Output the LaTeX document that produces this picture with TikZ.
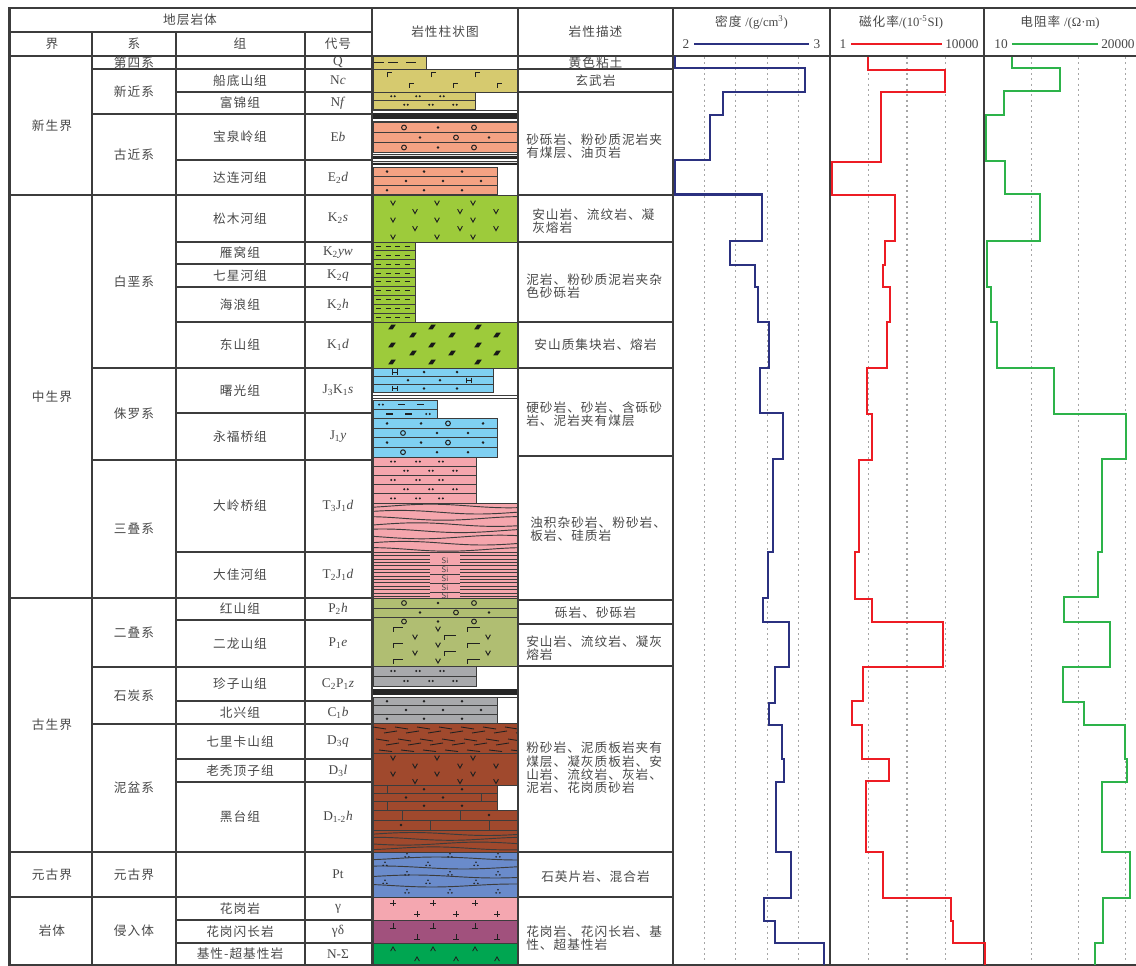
\documentclass[tikz,border=0pt]{standalone}
\usepackage{fontspec}
\setmainfont{Liberation Serif}
\newfontfamily\cjk{Noto Sans CJK SC}[LetterSpace=8]

\definecolor{txt}{HTML}{484848}
\definecolor{mk}{HTML}{202020}
\definecolor{rule}{HTML}{3C3C3C}
\definecolor{qyel}{HTML}{D6CA6F}
\definecolor{salm}{HTML}{F4A283}
\definecolor{kgrn}{HTML}{9DCB3B}
\definecolor{jblu}{HTML}{7FD0F2}
\definecolor{tpnk}{HTML}{F5A6AD}
\definecolor{poliv}{HTML}{B0BE72}
\definecolor{cgry}{HTML}{A8A9AC}
\definecolor{dbrn}{HTML}{A0492D}
\definecolor{ptblu}{HTML}{6A8BCB}
\definecolor{gpnk}{HTML}{F4A7B0}
\definecolor{gpur}{HTML}{A1517D}
\definecolor{ngrn}{HTML}{00A651}
\definecolor{dens}{HTML}{2B3180}
\definecolor{magn}{HTML}{ED1C24}
\definecolor{resi}{HTML}{2DB34A}
\definecolor{grid}{HTML}{A6A6A6}

% marks of the lithology column
\newcommand\mkdot[2]{\fill[mk] (#1,#2) circle (1.05pt);}
\newcommand\mkdd[2]{\fill[mk] (#1-1.8,#2) circle (0.85pt) (#1+1.8,#2) circle (0.85pt);}
\newcommand\mkring[2]{\draw[mk,line width=0.75pt] (#1,#2) circle (1.8pt);}
\newcommand\mkv[2]{\draw[mk,line width=0.7pt] (#1-2.4,#2-2.3)--(#1,#2+2.1)--(#1+2.4,#2-2.3);}
\newcommand\mkgam[3]{\draw[mk,line width=0.75pt] (#1,#2+4.5)--(#1,#2)--(#1+#3,#2);}
\newcommand\mkH[2]{\draw[mk,line width=0.6pt] (#1-2.2,#2-2.7)--(#1-2.2,#2+2.7) (#1+2.2,#2-2.7)--(#1+2.2,#2+2.7) (#1-2.2,#2)--(#1+2.2,#2);}
\newcommand\mkdash[2]{\draw[mk,line width=0.8pt] (#1,#2)--(#1+7,#2);}
\newcommand\mkblk[2]{\fill[black!90] (#1-3.8,#2+2.4)--(#1-0.6,#2-2.4)--(#1+3.8,#2-2.4)--(#1+0.6,#2+2.4)--cycle;}
\newcommand\mktri[2]{\fill[mk] (#1,#2-1.7) circle (0.7pt) (#1-1.9,#2+1.4) circle (0.7pt) (#1+1.9,#2+1.4) circle (0.7pt);}
\newcommand\mkplus[2]{\draw[mk,line width=0.6pt] (#1-2.7,#2)--(#1+2.7,#2) (#1,#2-2.7)--(#1,#2+2.7);}
\newcommand\mkperp[2]{\draw[mk,line width=0.6pt] (#1-2.7,#2+2.6)--(#1+2.7,#2+2.6) (#1,#2-2.6)--(#1,#2+2.6);}
\newcommand\mkcar[2]{\draw[mk,line width=0.6pt] (#1-2.4,#2+2.1)--(#1,#2-2.1)--(#1+2.4,#2+2.1);}

\begin{document}
\begin{tikzpicture}[x=0.75pt,y=-0.75pt,
  rulel/.style={draw=rule,line width=0.9pt},
  lay/.style={draw=rule,line width=0.6pt},
  cell/.style={font=\cjk\fontsize{9.5}{10}\selectfont,text=txt,inner sep=0pt},
  code/.style={font=\fontsize{10}{10}\selectfont,text=txt,inner sep=0pt},
  desc/.style={cell,align=left,anchor=west},
  gridl/.style={draw=grid,line width=1pt,dash pattern=on 1.5pt off 2.5pt},
  curve/.style={line width=1.7pt,line join=miter}]
\useasboundingbox (0,0) rectangle (1136,966);

% --- lithology column
% Q
\draw[lay,fill=qyel] (373,56) rectangle (426,69);
\foreach \x in {374,388,406} {\draw[mk,line width=0.8pt] (\x,62.5)--(\x+10,62.5);}
% basalt
\draw[lay,fill=qyel] (373,69) rectangle (518,92);
\foreach \x in {387,431,475} {\mkgam{\x}{73}{5}}
\foreach \x in {409,453,497} {\mkgam{\x}{83.5}{5}}
% Nf
\foreach \y in {92,100.5} {\draw[lay,fill=qyel] (373,\y) rectangle (475,\y+8.5);}
\foreach \x in {393,418,442} {\mkdd{\x}{96.3}}
\foreach \x in {406,431,455} {\mkdd{\x}{104.8}}
\draw[lay] (373,110.5)--(518,110.5) (373,121)--(518,121);
\fill[black!85] (373,113.5) rectangle (518,119);
% Eb
\foreach \y in {122.5,132.5,142.5} {\draw[lay,fill=salm] (373,\y) rectangle (518,\y+9.8);}
\foreach \y in {127.5,147.5} {\mkring{404}{\y} \mkdot{438}{\y} \mkring{474}{\y}}
\mkdot{420}{137.5} \mkring{456}{137.5} \mkdot{489}{137.5}
\draw[lay] (373,154)--(518,154) (373,161.5)--(518,161.5);
\fill[black!85] (373,156) rectangle (518,159) (373,163) rectangle (518,165);
% E2d
\foreach \y in {167,176.3,185.6} {\draw[lay,fill=salm] (373,\y) rectangle (497,\y+9.3);}
\foreach \y in {171.6,190.3} {\foreach \x in {387,424,462} {\mkdot{\x}{\y}}}
\foreach \x in {406,443,481} {\mkdot{\x}{181}}
% K2s
\draw[lay,fill=kgrn] (373,195) rectangle (518,242);
\foreach \y in {203,220,237} {\foreach \x in {393,437,473} {\mkv{\x}{\y}}}
\foreach \y in {211.5,228.5} {\foreach \x in {415,460,496} {\mkv{\x}{\y}}}
% K2yw - K2h
\foreach \i in {0,...,8} {\draw[lay,fill=kgrn] (373,{242+8.89*\i}) rectangle (415,{242+8.89*(\i+1)});
  \foreach \x in {376,385.5,395,404.5} {\draw[mk,line width=0.7pt] (\x,{246.4+8.89*\i})--(\x+5,{246.4+8.89*\i});}}
% K1d
\draw[lay,fill=kgrn] (373,322) rectangle (518,368);
\foreach \y in {327,345,362} {\foreach \x in {392,432,478} {\mkblk{\x}{\y}}}
\foreach \y in {335,353} {\foreach \x in {413,452,497} {\mkblk{\x}{\y}}}
% J3K1s
\foreach \y in {368,376.2,384.4} {\draw[lay,fill=jblu] (373,\y) rectangle (493,\y+8.2);}
\mkH{395}{372.1} \mkdot{424}{372.1} \mkdot{457}{372.1}
\mkdot{408}{380.3} \mkdot{440}{380.3} \mkH{469}{380.3}
\mkH{395}{388.5} \mkdot{424}{388.5} \mkdot{457}{388.5}
\draw[rule,line width=0.9pt] (373,395.3)--(518,395.3) (373,398.3)--(518,398.3);
% J1y
\foreach \y in {400,409.3} {\draw[lay,fill=jblu] (373,\y) rectangle (437,\y+9.3);}
\mkdd{381}{404.6} \mkdash{398}{404.6} \mkdash{417}{404.6}
\mkdash{386}{414} \mkdash{405}{414} \mkdd{428}{414}
\foreach \y in {418.6,428.2,437.8,447.4} {\draw[lay,fill=jblu] (373,\y) rectangle (497,\y+9.6);}
\foreach \y in {423.4,442.6} {\mkdot{387}{\y} \mkdot{421}{\y} \mkring{448}{\y} \mkdot{483}{\y}}
\foreach \y in {433,452.2} {\mkring{403}{\y} \mkdot{437}{\y} \mkdot{468}{\y}}
% T3J1d
\foreach \i in {0,...,4} {\draw[lay,fill=tpnk] (373,{457+9.2*\i}) rectangle (476,{457+9.2*(\i+1)});}
\foreach \y in {461.6,480,498.4} {\foreach \x in {393,418,441} {\mkdd{\x}{\y}}}
\foreach \y in {470.8,489.2} {\foreach \x in {406,431,455} {\mkdd{\x}{\y}}}
\draw[lay,fill=tpnk] (373,503) rectangle (518,552);
\foreach \k/\ph in {0/0,1/70,2/150,3/30,4/110,5/200,6/60,7/140} {\draw[rule,line width=0.7pt] plot[domain=373:518,samples=30,smooth] (\x,{506+6.2*\k+1.8*sin(2.3*\x+\ph)});}
% T2J1d
\draw[lay,fill=tpnk] (373,552) rectangle (518,598);
\foreach \k in {0,...,12} {\draw[lay,line width=0.55pt] (373,{555.5+3.4*\k})--(430,{555.5+3.4*\k}) (460,{555.5+3.4*\k})--(518,{555.5+3.4*\k});}
\foreach \y in {565,574,583,592} {\draw[lay,line width=0.55pt] (430,\y)--(460,\y);}
\foreach \y [count=\i] in {560.5,569.5,578.5,587.5,595.5} {\node[font=\fontsize{6}{6}\selectfont\sffamily,text=txt,inner sep=0pt] (si\i) at (445,\y) {Si};}
% P2h, P1e
\draw[lay,fill=poliv] (373,598) rectangle (518,608) (373,608) rectangle (518,617);
\mkring{404}{603} \mkdot{438}{603} \mkring{474}{603}
\mkdot{420}{612.5} \mkring{456}{612.5} \mkdot{489}{612.5}
\draw[lay,fill=poliv] (373,617) rectangle (518,666);
\mkring{404}{621.5} \mkdot{438}{621.5} \mkring{474}{621.5}
\foreach \y in {627,643,659} {\mkgam{393}{\y}{10} \mkv{438}{\y+2} \mkgam{467}{\y}{13}}
\foreach \y in {635,651} {\mkv{415}{\y+2} \mkgam{444}{\y}{12} \mkv{488}{\y+2}}
% C2P1z, C1b
\draw[lay,fill=cgry] (373,666) rectangle (476,676) (373,676) rectangle (476,686);
\foreach \x in {393,418,442} {\mkdd{\x}{671}}
\foreach \x in {406,431,455} {\mkdd{\x}{681}}
\fill[black!85] (373,689) rectangle (518,695);
\draw[lay] (373,697)--(518,697);
\foreach \y in {697,705.7,714.4} {\draw[lay,fill=cgry] (373,\y) rectangle (497,\y+8.7);}
\foreach \y in {701.3,718.7} {\foreach \x in {387,424,462} {\mkdot{\x}{\y}}}
\foreach \x in {406,443,481} {\mkdot{\x}{710}}
% D3q
\draw[lay,fill=dbrn] (373,723) rectangle (518,753);
\begin{scope}
\clip (373,723) rectangle (518,753);
\foreach \y/\o/\s in {727/0/2,733/11/-2,739/3/2,745/13/-2,750/6/1.5} {\foreach \x in {373,395,...,505} {\draw[mk,line width=0.65pt] (\x+\o,\y)--(\x+\o+13,\y+\s);}}
\end{scope}
% D3l
\draw[lay,fill=dbrn] (373,753) rectangle (518,785);
\foreach \y in {758,774} {\foreach \x in {393,437,473} {\mkv{\x}{\y}}}
\foreach \y in {766,781.5} {\foreach \x in {415,460,496} {\mkv{\x}{\y}}}
% D1-2h
\foreach \y in {785,793.3,801.6} {\draw[lay,fill=dbrn] (373,\y) rectangle (497,\y+8.3);}
\draw[lay,fill=dbrn] (373,810) rectangle (518,820) (373,820) rectangle (518,830);
\draw[lay] (387,785)--(387,793.3) (481,793.3)--(481,801.6) (387,801.6)--(387,810) (402,810)--(402,820) (460,810)--(460,820) (430,820)--(430,830) (489,820)--(489,830);
\foreach \x in {424,462} {\mkdot{\x}{789.2} \mkdot{\x}{805.8}}
\foreach \x in {406,443} {\mkdot{\x}{797.5}}
\mkdot{489}{815} \mkdot{401}{825}
\draw[lay,fill=dbrn] (373,830) rectangle (518,852);
\foreach \k/\ph in {0/0,1/90,2/200,3/310} {\draw[rule,line width=0.7pt] plot[domain=373:518,samples=30,smooth] (\x,{834+4.8*\k+1.5*sin(2.4*\x+\ph)});}
% Pt
\draw[lay,fill=ptblu] (373,852) rectangle (518,897);
\foreach \k/\ph in {0/30,1/150,2/80,3/220} {\draw[rule,line width=0.7pt] plot[domain=373:518,samples=30,smooth] (\x,{858.5+9*\k+1.5*sin(2.2*\x+\ph)});}
\foreach \y in {855.5,873.5,891.5} {\foreach \x in {407,450,498} {\mktri{\x}{\y}}}
\foreach \y in {864,882} {\foreach \x in {385,428,476} {\mktri{\x}{\y}}}
% intrusions
\draw[lay,fill=gpnk] (373,897) rectangle (518,920);
\foreach \x in {393,433,475} {\mkplus{\x}{903}}
\foreach \x in {417,456,497} {\mkplus{\x}{914}}
\draw[lay,fill=gpur] (373,920) rectangle (518,943);
\foreach \x in {393,433,475} {\mkperp{\x}{926}}
\foreach \x in {417,456,497} {\mkperp{\x}{937}}
\draw[lay,fill=ngrn] (373,943) rectangle (518,965);
\foreach \x in {393,433,475} {\mkcar{\x}{949}}
\foreach \x in {417,456,497} {\mkcar{\x}{959}}

% --- grid of the log columns
\foreach \x in {704.4,735.8,767.2,798.6,868.5,907,945.5,1031.5,1078.5,1125.5} {\draw[gridl] (\x,57)--(\x,964);}

% --- table rules
\draw[rulel,line width=2pt] (8,8)--(1136,8);
\draw[rulel,line width=1.6pt] (9.5,8)--(9.5,966);
\draw[rulel] (9,32)--(372,32) (9,56)--(1136,56) (9,965)--(1136,965);
\foreach \x in {92,176,305} {\draw[rulel] (\x,32)--(\x,965);}
\foreach \x in {372,518,673,830,984} {\draw[rulel] (\x,8)--(\x,965);}
\foreach \y in {195,598,852,897} {\draw[rulel] (9,\y)--(372,\y);}
\foreach \y in {69,114,368,460,667,724} {\draw[rulel] (92,\y)--(372,\y);}
\foreach \y in {92,160,242,264,287,322,413,552,620,701,759,782,920,943} {\draw[rulel] (176,\y)--(372,\y);}
\foreach \y in {69,92,195,242,322,368,456,600,624,666,852,897} {\draw[rulel] (518,\y)--(673,\y);}

% --- curves
\draw[curve,dens] (675,56) |- (805,68) |- (723,92) |- (710,115) |- (675,160) |- (762,194.5) |- (730,241) |- (755,265) |- (758,287) |- (769,322) |- (760,368) |- (783,413) |- (773,459) |- (768,552) |- (763,598) |- (789,622) |- (775,667) |- (769,703) |- (782,725) |- (784,759) |- (776,782) |- (791,852) |- (764,898) |- (775,921) |- (824,943) -- (824,965);
\draw[curve,magn] (868,57) |- (945,70) |- (881,92) |- (832,162) |- (895,195) |- (885,241) |- (883,265) |- (890,287) |- (887,322) |- (867,368) |- (872,414) |- (859,460) |- (855,552) |- (872,599) |- (943,622) |- (863,667) |- (852,701) |- (862,725) |- (889,759) |- (866,781) |- (883,852) |- (951,898) |- (953,921) |- (985,943) -- (985,965);
\draw[curve,resi] (1012,57) |- (1060,68) |- (1004,91) |- (986,115) |- (1005,161) |- (1040,194) |- (987,241) |- (991,287) |- (997,322) |- (1054,368) |- (1126,414) |- (1102,459) |- (1098,552) |- (1064,597) |- (1110,622) |- (1063,667) |- (1084,702) |- (1125,725) |- (1127,759) |- (1102,782) |- (1130,852) |- (1103,898) |- (1095,943) -- (1095,965);

% --- headers
\node[cell] (hd) at (190,20) {地层岩体};
\node[cell] (hjie) at (52,44) {界};
\node[cell] (hxi) at (134,44) {系};
\node[cell] (hzu) at (240,44) {组};
\node[cell] (hdh) at (338,44) {代号};
\node[cell] (hzz) at (445,32) {岩性柱状图};
\node[cell] (hms) at (595.5,32) {岩性描述};
\node[cell] (htd) at (751.5,22) {密度 {\rmfamily /(g/cm\textsuperscript{3})}};
\node[cell] (htm) at (901,22) {磁化率{\rmfamily /(10\textsuperscript{-5}SI)}};
\node[cell] (htr) at (1060,22) {电阻率 {\rmfamily /(Ω·m)}};
\node[code] (dlo) at (686,44) {2};
\node[code] (dhi) at (817,44) {3};
\node[code] (mlo) at (843,44) {1};
\node[code,anchor=west] (mhi) at (945,44) {10000};
\node[code] (rlo) at (1001,44) {10};
\node[code,anchor=west] (rhi) at (1101,44) {20000};
\draw[curve,dens,shorten <=3.5pt,shorten >=3.5pt] (dlo) -- (dhi);
\draw[curve,magn,shorten <=3.5pt,shorten >=2.5pt] (mlo) -- (mhi);
\draw[curve,resi,shorten <=3pt,shorten >=2.5pt] (rlo) -- (rhi);

% --- strata names
\foreach \t/\y [count=\i] in {新生界/125.5,中生界/396.5,古生界/725,元古界/874.5,岩体/931} {\node[cell] (jie\i) at (52,\y) {\t};}
\foreach \t/\y [count=\i] in {第四系/62.5,新近系/91.5,古近系/154.5,白垩系/281.5,侏罗系/414,三叠系/529,二叠系/632.5,石炭系/695.5,泥盆系/788,元古界/874.5,侵入体/931} {\node[cell] (xi\i) at (134,\y) {\t};}
\node[code] (cdq) at (338,62.5) {Q};
\node[code] (cdpt) at (338,874.5) {Pt};
\foreach \t/\c/\y [count=\i] in {船底山组/N\textit{c}/80.5, 富锦组/N\textit{f}/103, 宝泉岭组/E\textit{b}/137, 达连河组/E\textsubscript{2}\textit{d}/177.5,
  松木河组/K\textsubscript{2}\textit{s}/218.5, 雁窝组/K\textsubscript{2}\textit{yw}/253, 七星河组/K\textsubscript{2}\textit{q}/275.5, 海浪组/K\textsubscript{2}\textit{h}/304.5,
  东山组/K\textsubscript{1}\textit{d}/345, 曙光组/J\textsubscript{3}K\textsubscript{1}\textit{s}/390.5, 永福桥组/J\textsubscript{1}\textit{y}/436.5,
  大岭桥组/T\textsubscript{3}J\textsubscript{1}\textit{d}/506, 大佳河组/T\textsubscript{2}J\textsubscript{1}\textit{d}/575, 红山组/P\textsubscript{2}\textit{h}/609,
  二龙山组/P\textsubscript{1}\textit{e}/643.5, 珍子山组/C\textsubscript{2}P\textsubscript{1}\textit{z}/684, 北兴组/C\textsubscript{1}\textit{b}/712.5,
  七里卡山组/D\textsubscript{3}\textit{q}/741.5, 老秃顶子组/D\textsubscript{3}\textit{l}/770.5, 黑台组/D\textsubscript{1-2}\textit{h}/817,
  花岗岩/γ/908.5, 花岗闪长岩/γδ/931.5, 基性-超基性岩/N-Σ/954}
  {\node[cell] (zu\i) at (240,\y) {\t}; \node[code] (cd\i) at (338,\y) {\c};}

% --- descriptions
\node[cell] (ds1) at (595.5,62.5) {黄色粘土};
\node[cell] (ds2) at (595.5,80.5) {玄武岩};
\node[desc] (ds3) at (526,146.5) {砂砾岩、粉砂质泥岩夹\\有煤层、油页岩};
\node[desc] (ds4) at (532,221.5) {安山岩、流纹岩、凝\\灰熔岩};
\node[desc] (ds5) at (526,286.5) {泥岩、粉砂质泥岩夹杂\\色砂砾岩};
\node[cell] (ds6) at (595.5,345) {安山质集块岩、熔岩};
\node[desc] (ds7) at (526,414) {硬砂岩、砂岩、含砾砂\\岩、泥岩夹有煤层};
\node[desc] (ds8) at (530,529.5) {浊积杂砂岩、粉砂岩、\\板岩、硅质岩};
\node[cell] (ds9) at (595.5,613) {砾岩、砂砾岩};
\node[desc] (ds10) at (526,648) {安山岩、流纹岩、凝灰\\熔岩};
\node[desc] (ds11) at (526,768) {粉砂岩、泥质板岩夹有\\煤层、凝灰质板岩、安\\山岩、流纹岩、灰岩、\\泥岩、花岗质砂岩};
\node[cell] (ds12) at (595.5,877) {石英片岩、混合岩};
\node[desc] (ds13) at (526,938.5) {花岗岩、花闪长岩、基\\性、超基性岩};
\end{tikzpicture}
\end{document}
